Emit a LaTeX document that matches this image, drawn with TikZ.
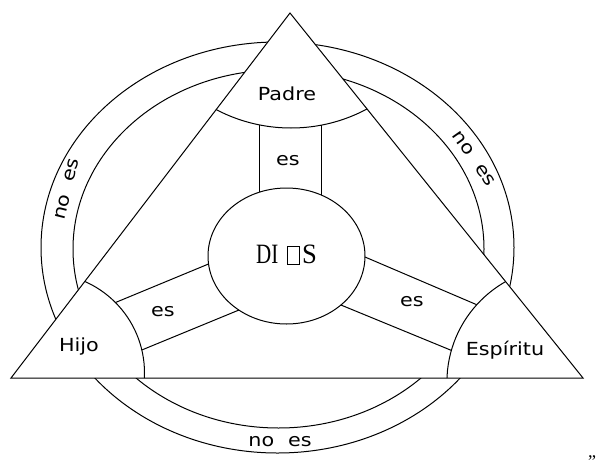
\documentclass[tikz,border=0pt]{standalone}
\usepackage{fontspec}
\usepackage{graphicx}
\newfontfamily\labfont{DejaVu Sans}
\newfontfamily\diosfont{Liberation Serif}
\newcommand{\widetext}[1]{\scalebox{1.15}[1]{#1}}
\begin{document}
\begin{tikzpicture}[x=1pt,y=-1pt,
  lab/.style={font=\labfont\fontsize{18}{20}\selectfont, inner sep=0pt},
  ln/.style={line width=1pt, draw=black}]
\useasboundingbox (0,0) rectangle (599,463);
\coordinate (A) at (290,13);
\coordinate (L) at (11,378);
\coordinate (R) at (583,378);

% outer rings, only outside the triangle
\begin{scope}[even odd rule]
\clip (-5,-5) rectangle (604,468) (A) -- (L) -- (R) -- cycle;
\draw[ln] (277.5,247.5) ellipse [x radius=236.5, y radius=205.5];
\draw[ln] (278.5,249) ellipse [x radius=205.5, y radius=179];
\end{scope}

% corner arcs inside the triangle
\begin{scope}
\clip (A) -- (L) -- (R) -- cycle;
\draw[ln] (291,-33) circle [radius=161];
\draw[ln] (44.5,373) circle [radius=100];
\draw[ln] (562.4,382.2) circle [radius=115.5];
\end{scope}

% triangle
\draw[ln, line join=miter] (A) -- (L) -- (R) -- cycle;

% central ellipse
\draw[ln] (286.5,256) ellipse [x radius=78.5, y radius=68];

% bands
\coordinate (p1) at (259,124.8);
\coordinate (p2) at (259,192.3);
\coordinate (p3) at (321,125.2);
\coordinate (p4) at (321,194.9);
\coordinate (h1) at (115.5,302.5);
\coordinate (d1) at (208.5,264);
\coordinate (h2) at (141.8,350);
\coordinate (d2) at (239,310);
\coordinate (s1) at (476.7,304.7);
\coordinate (d3) at (365,257);
\coordinate (s2) at (451.4,350.4);
\coordinate (d4) at (340.9,305);
\draw[ln] (p1) -- (p2);
\draw[ln] (p3) -- (p4);
\draw[ln] (h1) -- (d1);
\draw[ln] (h2) -- (d2);
\draw[ln] (d3) -- (s1);
\draw[ln] (d4) -- (s2);

% labels
\node[lab] (padre) at (287,93.5) {\widetext{Padre}};
\node[lab] (estop) at (288,161) {\widetext{es}};
\node[lab] (esl) at (163,312) {\widetext{es}};
\node[lab] (esr) at (412,302) {\widetext{es}};
\node[lab] (hijo) at (79,346.5) {\widetext{Hijo}};
\node[lab] (esp) at (505,350) {\widetext{Espíritu}};
\node[lab] (noesb) at (280,442) {\widetext{no\hspace{12pt}es}};
\node[lab, rotate=76] (noesl) at (67,189) {\widetext{no\hspace{12pt}es}};
\node[lab, rotate=-55] (noesr) at (474,159) {\widetext{no\hspace{12pt}es}};
\node[inner sep=0pt] (dios) at (286.5,255) {\diosfont\fontsize{28}{30}\selectfont
  \scalebox{0.75}[1]{DI}\hspace{9pt}{\fboxsep=0pt\fboxrule=0.9pt\fbox{\rule{0pt}{17pt}\hspace{11pt}}}\hspace{2pt}\scalebox{0.95}[1]{S}};
\node[inner sep=0pt, anchor=base] (quote) at (592,457) {\diosfont\fontsize{18}{18}\selectfont „};
\end{tikzpicture}
\end{document}
